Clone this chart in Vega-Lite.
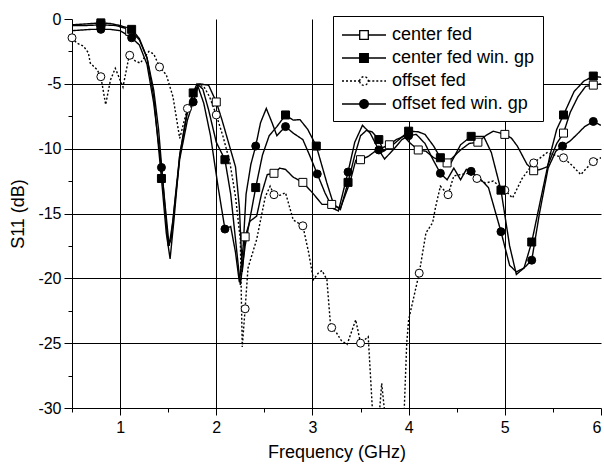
{
  "$schema": "https://vega.github.io/schema/vega-lite/v6.json",
  "width": 529,
  "height": 389,
  "autosize": {"type": "none"},
  "padding": {"left": 72, "top": 19, "right": 3, "bottom": 61},
  "background": "white",
  "config": {"font": "Liberation Sans", "view": {"stroke": null}},
  "datasets": {
    "lines": [
      {"series":"center fed","freq":0.5,"s11":-0.5},{"series":"center fed","freq":0.65,"s11":-0.5},{"series":"center fed","freq":0.8,"s11":-0.45},{"series":"center fed","freq":0.95,"s11":-0.5},{"series":"center fed","freq":1.05,"s11":-0.7},{"series":"center fed","freq":1.12,"s11":-1.0},{"series":"center fed","freq":1.2,"s11":-1.6},{"series":"center fed","freq":1.28,"s11":-3.0},{"series":"center fed","freq":1.35,"s11":-5.5},{"series":"center fed","freq":1.4,"s11":-8.5},{"series":"center fed","freq":1.45,"s11":-13},{"series":"center fed","freq":1.5,"s11":-17.5},{"series":"center fed","freq":1.53,"s11":-17},{"series":"center fed","freq":1.57,"s11":-14},{"series":"center fed","freq":1.62,"s11":-10.5},{"series":"center fed","freq":1.7,"s11":-7.0},{"series":"center fed","freq":1.76,"s11":-5.8},{"series":"center fed","freq":1.82,"s11":-5.0},{"series":"center fed","freq":1.92,"s11":-5.1},{"series":"center fed","freq":2.0,"s11":-6.4},{"series":"center fed","freq":2.06,"s11":-7.8},{"series":"center fed","freq":2.13,"s11":-9.6},{"series":"center fed","freq":2.2,"s11":-11.4},{"series":"center fed","freq":2.24,"s11":-14.5},{"series":"center fed","freq":2.27,"s11":-19.5},{"series":"center fed","freq":2.3,"s11":-16.8},{"series":"center fed","freq":2.35,"s11":-15.6},{"series":"center fed","freq":2.42,"s11":-15.2},{"series":"center fed","freq":2.47,"s11":-13.5},{"series":"center fed","freq":2.53,"s11":-12.0},{"series":"center fed","freq":2.6,"s11":-11.9},{"series":"center fed","freq":2.66,"s11":-11.5},{"series":"center fed","freq":2.72,"s11":-11.6},{"series":"center fed","freq":2.8,"s11":-12.2},{"series":"center fed","freq":2.9,"s11":-12.6},{"series":"center fed","freq":3.0,"s11":-13.4},{"series":"center fed","freq":3.1,"s11":-14.3},{"series":"center fed","freq":3.2,"s11":-14.3},{"series":"center fed","freq":3.29,"s11":-14.6},{"series":"center fed","freq":3.39,"s11":-12.6},{"series":"center fed","freq":3.45,"s11":-10.9},{"series":"center fed","freq":3.5,"s11":-10.85},{"series":"center fed","freq":3.58,"s11":-10.6},{"series":"center fed","freq":3.67,"s11":-10.1},{"series":"center fed","freq":3.8,"s11":-9.7},{"series":"center fed","freq":3.87,"s11":-9.3},{"series":"center fed","freq":3.95,"s11":-9.05},{"series":"center fed","freq":4.02,"s11":-9.6},{"series":"center fed","freq":4.1,"s11":-10.1},{"series":"center fed","freq":4.18,"s11":-10.2},{"series":"center fed","freq":4.26,"s11":-10.7},{"series":"center fed","freq":4.4,"s11":-11.1},{"series":"center fed","freq":4.47,"s11":-10.6},{"series":"center fed","freq":4.54,"s11":-10.1},{"series":"center fed","freq":4.63,"s11":-9.6},{"series":"center fed","freq":4.72,"s11":-9.5},{"series":"center fed","freq":4.8,"s11":-9.0},{"series":"center fed","freq":4.88,"s11":-8.65},{"series":"center fed","freq":5.0,"s11":-8.9},{"series":"center fed","freq":5.07,"s11":-9.2},{"series":"center fed","freq":5.13,"s11":-9.8},{"series":"center fed","freq":5.23,"s11":-11.2},{"series":"center fed","freq":5.3,"s11":-11.7},{"series":"center fed","freq":5.37,"s11":-11.6},{"series":"center fed","freq":5.44,"s11":-11.4},{"series":"center fed","freq":5.54,"s11":-9.6},{"series":"center fed","freq":5.61,"s11":-8.8},{"series":"center fed","freq":5.68,"s11":-7.2},{"series":"center fed","freq":5.76,"s11":-6.0},{"series":"center fed","freq":5.84,"s11":-5.2},{"series":"center fed","freq":5.92,"s11":-5.1},{"series":"center fed","freq":6.0,"s11":-5.0},

      {"series":"center fed win. gp","freq":0.5,"s11":-0.45},{"series":"center fed win. gp","freq":0.6,"s11":-0.4},{"series":"center fed win. gp","freq":0.7,"s11":-0.35},{"series":"center fed win. gp","freq":0.8,"s11":-0.3},{"series":"center fed win. gp","freq":0.9,"s11":-0.35},{"series":"center fed win. gp","freq":1.0,"s11":-0.5},{"series":"center fed win. gp","freq":1.12,"s11":-0.8},{"series":"center fed win. gp","freq":1.2,"s11":-1.5},{"series":"center fed win. gp","freq":1.28,"s11":-3.0},{"series":"center fed win. gp","freq":1.35,"s11":-6.0},{"series":"center fed win. gp","freq":1.43,"s11":-12.3},{"series":"center fed win. gp","freq":1.48,"s11":-16.5},{"series":"center fed win. gp","freq":1.52,"s11":-18.5},{"series":"center fed win. gp","freq":1.56,"s11":-15.5},{"series":"center fed win. gp","freq":1.62,"s11":-10.5},{"series":"center fed win. gp","freq":1.7,"s11":-7.2},{"series":"center fed win. gp","freq":1.76,"s11":-5.7},{"series":"center fed win. gp","freq":1.8,"s11":-5.0},{"series":"center fed win. gp","freq":1.86,"s11":-5.4},{"series":"center fed win. gp","freq":1.92,"s11":-7.0},{"series":"center fed win. gp","freq":2.0,"s11":-9.5},{"series":"center fed win. gp","freq":2.09,"s11":-10.85},{"series":"center fed win. gp","freq":2.15,"s11":-13.5},{"series":"center fed win. gp","freq":2.2,"s11":-17},{"series":"center fed win. gp","freq":2.25,"s11":-20.5},{"series":"center fed win. gp","freq":2.3,"s11":-17.5},{"series":"center fed win. gp","freq":2.36,"s11":-15},{"series":"center fed win. gp","freq":2.41,"s11":-13},{"series":"center fed win. gp","freq":2.48,"s11":-10.5},{"series":"center fed win. gp","freq":2.55,"s11":-9.0},{"series":"center fed win. gp","freq":2.63,"s11":-8.3},{"series":"center fed win. gp","freq":2.72,"s11":-7.4},{"series":"center fed win. gp","freq":2.8,"s11":-7.8},{"series":"center fed win. gp","freq":2.87,"s11":-7.76},{"series":"center fed win. gp","freq":2.95,"s11":-8.5},{"series":"center fed win. gp","freq":3.04,"s11":-9.8},{"series":"center fed win. gp","freq":3.15,"s11":-12.65},{"series":"center fed win. gp","freq":3.22,"s11":-14.3},{"series":"center fed win. gp","freq":3.29,"s11":-14.7},{"series":"center fed win. gp","freq":3.37,"s11":-12.6},{"series":"center fed win. gp","freq":3.44,"s11":-10.5},{"series":"center fed win. gp","freq":3.5,"s11":-9.0},{"series":"center fed win. gp","freq":3.56,"s11":-8.6},{"series":"center fed win. gp","freq":3.62,"s11":-8.7},{"series":"center fed win. gp","freq":3.69,"s11":-9.3},{"series":"center fed win. gp","freq":3.74,"s11":-10.2},{"series":"center fed win. gp","freq":3.82,"s11":-9.8},{"series":"center fed win. gp","freq":3.9,"s11":-9.3},{"series":"center fed win. gp","freq":4.0,"s11":-8.65},{"series":"center fed win. gp","freq":4.1,"s11":-8.7},{"series":"center fed win. gp","freq":4.17,"s11":-8.9},{"series":"center fed win. gp","freq":4.26,"s11":-9.8},{"series":"center fed win. gp","freq":4.33,"s11":-10.7},{"series":"center fed win. gp","freq":4.44,"s11":-11.1},{"series":"center fed win. gp","freq":4.54,"s11":-9.7},{"series":"center fed win. gp","freq":4.65,"s11":-9.05},{"series":"center fed win. gp","freq":4.78,"s11":-9.05},{"series":"center fed win. gp","freq":4.86,"s11":-10.3},{"series":"center fed win. gp","freq":4.96,"s11":-13.2},{"series":"center fed win. gp","freq":5.05,"s11":-17.5},{"series":"center fed win. gp","freq":5.12,"s11":-19.7},{"series":"center fed win. gp","freq":5.2,"s11":-19.2},{"series":"center fed win. gp","freq":5.28,"s11":-17.2},{"series":"center fed win. gp","freq":5.37,"s11":-14.0},{"series":"center fed win. gp","freq":5.47,"s11":-10.5},{"series":"center fed win. gp","freq":5.54,"s11":-8.5},{"series":"center fed win. gp","freq":5.61,"s11":-7.4},{"series":"center fed win. gp","freq":5.72,"s11":-5.6},{"series":"center fed win. gp","freq":5.82,"s11":-4.8},{"series":"center fed win. gp","freq":5.92,"s11":-4.4},{"series":"center fed win. gp","freq":6.0,"s11":-4.5},

      {"series":"offset fed","freq":0.5,"s11":-1.45},{"series":"offset fed","freq":0.55,"s11":-1.85},{"series":"offset fed","freq":0.62,"s11":-2.1},{"series":"offset fed","freq":0.67,"s11":-2.6},{"series":"offset fed","freq":0.69,"s11":-3.4},{"series":"offset fed","freq":0.76,"s11":-3.9},{"series":"offset fed","freq":0.8,"s11":-4.45},{"series":"offset fed","freq":0.85,"s11":-6.6},{"series":"offset fed","freq":0.9,"s11":-4.7},{"series":"offset fed","freq":0.95,"s11":-3.8},{"series":"offset fed","freq":1.0,"s11":-4.7},{"series":"offset fed","freq":1.03,"s11":-5.25},{"series":"offset fed","freq":1.09,"s11":-3.0},{"series":"offset fed","freq":1.1,"s11":-2.8},{"series":"offset fed","freq":1.16,"s11":-3.25},{"series":"offset fed","freq":1.21,"s11":-3.4},{"series":"offset fed","freq":1.3,"s11":-2.5},{"series":"offset fed","freq":1.35,"s11":-2.7},{"series":"offset fed","freq":1.41,"s11":-3.7},{"series":"offset fed","freq":1.48,"s11":-4.3},{"series":"offset fed","freq":1.55,"s11":-6.0},{"series":"offset fed","freq":1.62,"s11":-9.2},{"series":"offset fed","freq":1.7,"s11":-6.9},{"series":"offset fed","freq":1.76,"s11":-5.8},{"series":"offset fed","freq":1.8,"s11":-5.1},{"series":"offset fed","freq":1.87,"s11":-5.2},{"series":"offset fed","freq":1.93,"s11":-6.0},{"series":"offset fed","freq":2.0,"s11":-7.4},{"series":"offset fed","freq":2.07,"s11":-9.05},{"series":"offset fed","freq":2.14,"s11":-11.0},{"series":"offset fed","freq":2.2,"s11":-13.7},{"series":"offset fed","freq":2.25,"s11":-17.0},{"series":"offset fed","freq":2.27,"s11":-25.3},{"series":"offset fed","freq":2.3,"s11":-22.35},{"series":"offset fed","freq":2.33,"s11":-19.2},{"series":"offset fed","freq":2.42,"s11":-17.0},{"series":"offset fed","freq":2.51,"s11":-13.7},{"series":"offset fed","freq":2.56,"s11":-12.9},{"series":"offset fed","freq":2.6,"s11":-13.55},{"series":"offset fed","freq":2.66,"s11":-13.6},{"series":"offset fed","freq":2.72,"s11":-13.4},{"series":"offset fed","freq":2.8,"s11":-15.5},{"series":"offset fed","freq":2.9,"s11":-15.95},{"series":"offset fed","freq":2.96,"s11":-18.0},{"series":"offset fed","freq":3.01,"s11":-20.1},{"series":"offset fed","freq":3.06,"s11":-19.6},{"series":"offset fed","freq":3.1,"s11":-19.4},{"series":"offset fed","freq":3.15,"s11":-20.1},{"series":"offset fed","freq":3.19,"s11":-23.8},{"series":"offset fed","freq":3.25,"s11":-24.2},{"series":"offset fed","freq":3.3,"s11":-24.8},{"series":"offset fed","freq":3.36,"s11":-25.1},{"series":"offset fed","freq":3.45,"s11":-23.2},{"series":"offset fed","freq":3.5,"s11":-25.0},{"series":"offset fed","freq":3.58,"s11":-24.5},{"series":"offset fed","freq":3.63,"s11":-31},{"series":"offset fed","freq":3.7,"s11":-30},{"series":"offset fed","freq":3.72,"s11":-28.1},{"series":"offset fed","freq":3.76,"s11":-31},{"series":"offset fed","freq":3.85,"s11":-33},{"series":"offset fed","freq":3.95,"s11":-31},{"series":"offset fed","freq":3.98,"s11":-25},{"series":"offset fed","freq":4.0,"s11":-23.2},{"series":"offset fed","freq":4.11,"s11":-19.6},{"series":"offset fed","freq":4.18,"s11":-16.5},{"series":"offset fed","freq":4.25,"s11":-15.7},{"series":"offset fed","freq":4.28,"s11":-14.5},{"series":"offset fed","freq":4.33,"s11":-12.9},{"series":"offset fed","freq":4.41,"s11":-13.55},{"series":"offset fed","freq":4.47,"s11":-12.1},{"series":"offset fed","freq":4.54,"s11":-12.0},{"series":"offset fed","freq":4.62,"s11":-11.9},{"series":"offset fed","freq":4.71,"s11":-12.3},{"series":"offset fed","freq":4.8,"s11":-12.65},{"series":"offset fed","freq":4.88,"s11":-12.5},{"series":"offset fed","freq":5.0,"s11":-13.2},{"series":"offset fed","freq":5.08,"s11":-13.8},{"series":"offset fed","freq":5.18,"s11":-12.3},{"series":"offset fed","freq":5.3,"s11":-11.1},{"series":"offset fed","freq":5.44,"s11":-10.3},{"series":"offset fed","freq":5.52,"s11":-10.5},{"series":"offset fed","freq":5.61,"s11":-10.7},{"series":"offset fed","freq":5.7,"s11":-11.3},{"series":"offset fed","freq":5.79,"s11":-12.0},{"series":"offset fed","freq":5.85,"s11":-11.5},{"series":"offset fed","freq":5.92,"s11":-11.0},{"series":"offset fed","freq":6.0,"s11":-10.7},

      {"series":"offset fed win. gp","freq":0.5,"s11":-0.9},{"series":"offset fed win. gp","freq":0.6,"s11":-0.85},{"series":"offset fed win. gp","freq":0.7,"s11":-0.8},{"series":"offset fed win. gp","freq":0.8,"s11":-0.8},{"series":"offset fed win. gp","freq":0.9,"s11":-0.8},{"series":"offset fed win. gp","freq":1.0,"s11":-0.9},{"series":"offset fed win. gp","freq":1.12,"s11":-1.45},{"series":"offset fed win. gp","freq":1.2,"s11":-2.0},{"series":"offset fed win. gp","freq":1.28,"s11":-3.5},{"series":"offset fed win. gp","freq":1.35,"s11":-6.5},{"series":"offset fed win. gp","freq":1.43,"s11":-11.45},{"series":"offset fed win. gp","freq":1.47,"s11":-14.5},{"series":"offset fed win. gp","freq":1.51,"s11":-17.5},{"series":"offset fed win. gp","freq":1.55,"s11":-15.5},{"series":"offset fed win. gp","freq":1.62,"s11":-10.8},{"series":"offset fed win. gp","freq":1.7,"s11":-7.8},{"series":"offset fed win. gp","freq":1.76,"s11":-6.4},{"series":"offset fed win. gp","freq":1.81,"s11":-5.2},{"series":"offset fed win. gp","freq":1.87,"s11":-6.5},{"series":"offset fed win. gp","freq":1.94,"s11":-9.0},{"series":"offset fed win. gp","freq":2.02,"s11":-13.0},{"series":"offset fed win. gp","freq":2.09,"s11":-16.2},{"series":"offset fed win. gp","freq":2.15,"s11":-16.0},{"series":"offset fed win. gp","freq":2.2,"s11":-18.0},{"series":"offset fed win. gp","freq":2.24,"s11":-20.3},{"series":"offset fed win. gp","freq":2.28,"s11":-17.5},{"series":"offset fed win. gp","freq":2.31,"s11":-13.5},{"series":"offset fed win. gp","freq":2.36,"s11":-11.2},{"series":"offset fed win. gp","freq":2.41,"s11":-9.8},{"series":"offset fed win. gp","freq":2.46,"s11":-8.0},{"series":"offset fed win. gp","freq":2.52,"s11":-6.9},{"series":"offset fed win. gp","freq":2.58,"s11":-8.0},{"series":"offset fed win. gp","freq":2.63,"s11":-9.0},{"series":"offset fed win. gp","freq":2.68,"s11":-8.6},{"series":"offset fed win. gp","freq":2.72,"s11":-8.3},{"series":"offset fed win. gp","freq":2.8,"s11":-8.8},{"series":"offset fed win. gp","freq":2.9,"s11":-9.3},{"series":"offset fed win. gp","freq":2.97,"s11":-10.5},{"series":"offset fed win. gp","freq":3.05,"s11":-11.95},{"series":"offset fed win. gp","freq":3.13,"s11":-13.4},{"series":"offset fed win. gp","freq":3.21,"s11":-14.6},{"series":"offset fed win. gp","freq":3.27,"s11":-14.8},{"series":"offset fed win. gp","freq":3.37,"s11":-11.8},{"series":"offset fed win. gp","freq":3.44,"s11":-9.5},{"series":"offset fed win. gp","freq":3.52,"s11":-8.2},{"series":"offset fed win. gp","freq":3.6,"s11":-8.8},{"series":"offset fed win. gp","freq":3.69,"s11":-10.1},{"series":"offset fed win. gp","freq":3.75,"s11":-10.8},{"series":"offset fed win. gp","freq":3.85,"s11":-10.0},{"series":"offset fed win. gp","freq":3.93,"s11":-9.3},{"series":"offset fed win. gp","freq":4.0,"s11":-9.0},{"series":"offset fed win. gp","freq":4.08,"s11":-8.9},{"series":"offset fed win. gp","freq":4.17,"s11":-9.6},{"series":"offset fed win. gp","freq":4.25,"s11":-10.8},{"series":"offset fed win. gp","freq":4.33,"s11":-11.9},{"series":"offset fed win. gp","freq":4.4,"s11":-12.4},{"series":"offset fed win. gp","freq":4.47,"s11":-11.5},{"series":"offset fed win. gp","freq":4.54,"s11":-12.4},{"series":"offset fed win. gp","freq":4.6,"s11":-11.6},{"series":"offset fed win. gp","freq":4.65,"s11":-11.75},{"series":"offset fed win. gp","freq":4.74,"s11":-12.3},{"series":"offset fed win. gp","freq":4.83,"s11":-13.0},{"series":"offset fed win. gp","freq":4.96,"s11":-16.4},{"series":"offset fed win. gp","freq":5.05,"s11":-19.0},{"series":"offset fed win. gp","freq":5.12,"s11":-19.5},{"series":"offset fed win. gp","freq":5.2,"s11":-19.2},{"series":"offset fed win. gp","freq":5.28,"s11":-18.6},{"series":"offset fed win. gp","freq":5.36,"s11":-15.0},{"series":"offset fed win. gp","freq":5.45,"s11":-11.5},{"series":"offset fed win. gp","freq":5.53,"s11":-10.2},{"series":"offset fed win. gp","freq":5.6,"s11":-9.8},{"series":"offset fed win. gp","freq":5.68,"s11":-9.4},{"series":"offset fed win. gp","freq":5.75,"s11":-8.9},{"series":"offset fed win. gp","freq":5.83,"s11":-8.3},{"series":"offset fed win. gp","freq":5.92,"s11":-7.9},{"series":"offset fed win. gp","freq":6.0,"s11":-8.2}
    ],
    "markers": [
      {"curve":"center fed","freq":0.8,"s11":-0.45},{"curve":"center fed","freq":1.1,"s11":-0.95},{"curve":"center fed","freq":2.0,"s11":-6.4},{"curve":"center fed","freq":2.3,"s11":-16.8},{"curve":"center fed","freq":2.6,"s11":-11.9},{"curve":"center fed","freq":2.9,"s11":-12.6},{"curve":"center fed","freq":3.2,"s11":-14.3},{"curve":"center fed","freq":3.5,"s11":-10.85},{"curve":"center fed","freq":3.8,"s11":-9.7},{"curve":"center fed","freq":4.1,"s11":-10.1},{"curve":"center fed","freq":4.4,"s11":-11.1},{"curve":"center fed","freq":4.72,"s11":-9.5},{"curve":"center fed","freq":5.0,"s11":-8.9},{"curve":"center fed","freq":5.3,"s11":-11.7},{"curve":"center fed","freq":5.61,"s11":-8.8},{"curve":"center fed","freq":5.92,"s11":-5.1},
      {"curve":"offset fed","freq":0.5,"s11":-1.45},{"curve":"offset fed","freq":0.8,"s11":-4.45},{"curve":"offset fed","freq":1.1,"s11":-2.8},{"curve":"offset fed","freq":1.41,"s11":-3.7},{"curve":"offset fed","freq":1.7,"s11":-6.9},{"curve":"offset fed","freq":2.0,"s11":-7.4},{"curve":"offset fed","freq":2.3,"s11":-22.35},{"curve":"offset fed","freq":2.6,"s11":-13.55},{"curve":"offset fed","freq":2.9,"s11":-15.95},{"curve":"offset fed","freq":3.2,"s11":-23.8},{"curve":"offset fed","freq":3.5,"s11":-25.0},{"curve":"offset fed","freq":4.11,"s11":-19.6},{"curve":"offset fed","freq":4.41,"s11":-13.55},{"curve":"offset fed","freq":4.71,"s11":-12.3},{"curve":"offset fed","freq":5.0,"s11":-13.2},{"curve":"offset fed","freq":5.3,"s11":-11.1},{"curve":"offset fed","freq":5.61,"s11":-10.7},{"curve":"offset fed","freq":5.92,"s11":-11.0},
      {"curve":"center fed win. gp","freq":0.8,"s11":-0.3},{"curve":"center fed win. gp","freq":1.12,"s11":-0.8},{"curve":"center fed win. gp","freq":1.43,"s11":-12.3},{"curve":"center fed win. gp","freq":1.76,"s11":-5.7},{"curve":"center fed win. gp","freq":2.09,"s11":-10.85},{"curve":"center fed win. gp","freq":2.41,"s11":-13},{"curve":"center fed win. gp","freq":2.72,"s11":-7.4},{"curve":"center fed win. gp","freq":3.04,"s11":-9.8},{"curve":"center fed win. gp","freq":3.37,"s11":-12.6},{"curve":"center fed win. gp","freq":3.69,"s11":-9.3},{"curve":"center fed win. gp","freq":4.0,"s11":-8.65},{"curve":"center fed win. gp","freq":4.33,"s11":-10.7},{"curve":"center fed win. gp","freq":4.65,"s11":-9.05},{"curve":"center fed win. gp","freq":4.96,"s11":-13.2},{"curve":"center fed win. gp","freq":5.28,"s11":-17.2},{"curve":"center fed win. gp","freq":5.61,"s11":-7.4},{"curve":"center fed win. gp","freq":5.92,"s11":-4.4},
      {"curve":"offset fed win. gp","freq":0.8,"s11":-0.8},{"curve":"offset fed win. gp","freq":1.12,"s11":-1.45},{"curve":"offset fed win. gp","freq":1.43,"s11":-11.45},{"curve":"offset fed win. gp","freq":1.76,"s11":-6.4},{"curve":"offset fed win. gp","freq":2.09,"s11":-16.2},{"curve":"offset fed win. gp","freq":2.41,"s11":-9.8},{"curve":"offset fed win. gp","freq":2.72,"s11":-8.3},{"curve":"offset fed win. gp","freq":3.05,"s11":-11.95},{"curve":"offset fed win. gp","freq":3.37,"s11":-11.8},{"curve":"offset fed win. gp","freq":3.69,"s11":-10.1},{"curve":"offset fed win. gp","freq":4.0,"s11":-9.0},{"curve":"offset fed win. gp","freq":4.33,"s11":-11.9},{"curve":"offset fed win. gp","freq":4.65,"s11":-11.75},{"curve":"offset fed win. gp","freq":4.96,"s11":-16.4},{"curve":"offset fed win. gp","freq":5.28,"s11":-18.6},{"curve":"offset fed win. gp","freq":5.6,"s11":-9.8},{"curve":"offset fed win. gp","freq":5.92,"s11":-7.9}
    ]
  },
  "encoding": {
    "x": {
      "field": "freq", "type": "quantitative",
      "scale": {"domain": [0.5, 6], "nice": false, "zero": false},
      "axis": {
        "values": [0.5, 1, 1.5, 2, 2.5, 3, 3.5, 4, 4.5, 5, 5.5, 6],
        "labelExpr": "datum.value % 1 === 0 ? '' + datum.value : ''",
        "labelFlush": true, "labelOverlap": false,
        "tickSize": {"condition": {"test": "datum.value % 1 !== 0", "value": 4}, "value": 7},
        "tickColor": "black", "domainColor": "black",
        "grid": true, "gridColor": "black",
        "gridOpacity": {"condition": {"test": "datum.value % 1 === 0 && datum.value > 0.5 && datum.value < 6", "value": 1}, "value": 0},
        "labelFont": "Liberation Sans", "labelFontSize": 16, "labelColor": "black", "labelPadding": 4,
        "title": "Frequency (GHz)", "titleFont": "Liberation Sans", "titleFontSize": 18, "titleFontWeight": "normal", "titleColor": "black", "titlePadding": 8
      }
    },
    "y": {
      "field": "s11", "type": "quantitative",
      "scale": {"domain": [-30, 0], "nice": false, "zero": false},
      "axis": {
        "values": [0, -2.5, -5, -7.5, -10, -12.5, -15, -17.5, -20, -22.5, -25, -27.5, -30],
        "labelExpr": "datum.value % 5 === 0 ? '' + datum.value : ''",
        "labelOverlap": false,
        "tickSize": {"condition": {"test": "datum.value % 5 !== 0", "value": 4}, "value": 8},
        "tickColor": "black", "domainColor": "black",
        "grid": true, "gridColor": "black",
        "gridOpacity": {"condition": {"test": "datum.value % 5 === 0 && datum.value > -30 && datum.value < 0", "value": 1}, "value": 0},
        "labelFont": "Liberation Sans", "labelFontSize": 16, "labelColor": "black", "labelPadding": 3,
        "title": "S11 (dB)", "titleFont": "Liberation Sans", "titleFontSize": 18, "titleFontWeight": "normal", "titleColor": "black", "titlePadding": 10
      }
    }
  },
  "layer": [
    {
      "data": {"name": "lines"},
      "mark": {"type": "line", "color": "black", "strokeWidth": 1.4, "clip": true},
      "encoding": {
        "strokeDash": {
          "field": "series", "type": "nominal",
          "scale": {"domain": ["center fed", "center fed win. gp", "offset fed", "offset fed win. gp"], "range": [[1, 0], [1, 0], [2, 2], [1, 0]]},
          "legend": {
            "orient": "none", "legendX": 261, "legendY": -3, "title": null,
            "fillColor": "white", "strokeColor": "black", "padding": 8,
            "symbolSize": 400, "symbolStrokeWidth": 1.3, "symbolStrokeColor": "black",
            "labelFont": "Liberation Sans", "labelFontSize": 18, "labelColor": "black", "labelOffset": 29, "rowPadding": 3, "labelLimit": 300,
            "encode": {
              "symbols": {
                "update": {
                  "shape": {"signal": "indexof(datum.value, 'center') === 0 ? 'M-1,0H0.77M0.77,-0.43H1.63V0.43H0.77ZM1.63,0H3.4' : 'M-1,0H0.77M0.77,0A0.43,0.43 0 1,1 1.63,0A0.43,0.43 0 1,1 0.77,0M1.63,0H3.4'"},
                  "fill": {"signal": "indexof(datum.value, 'win') >= 0 ? 'black' : 'white'"},
                  "stroke": {"value": "black"},
                  "opacity": {"value": 1}
                }
              }
            }
          }
        }
      }
    },
    {
      "data": {"name": "markers"},
      "mark": {"type": "point", "filled": true, "size": 64, "stroke": "black", "strokeWidth": 1, "opacity": 1},
      "encoding": {
        "shape": {
          "field": "curve", "type": "nominal",
          "scale": {"range": ["square", "square", "circle", "circle"]},
          "legend": null
        },
        "fill": {
          "field": "curve", "type": "nominal",
          "scale": {"range": ["white", "black", "white", "black"]},
          "legend": null
        }
      }
    }
  ]
}
